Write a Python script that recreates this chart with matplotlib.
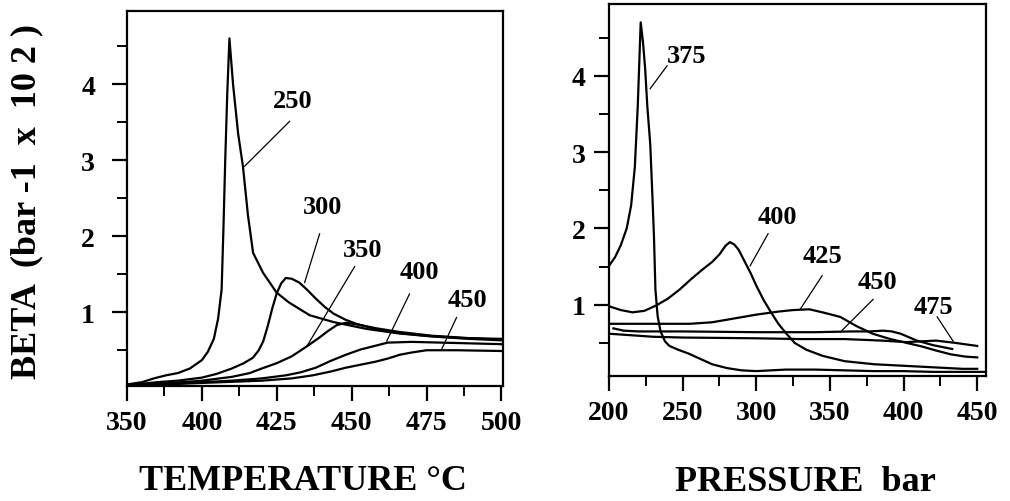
import matplotlib
matplotlib.use("Agg")
import matplotlib.pyplot as plt
from matplotlib.ticker import FixedLocator, MultipleLocator

plt.rcParams['font.family'] = ['Liberation Serif', 'DejaVu Serif']
plt.rcParams['font.weight'] = 'bold'

# ---- left panel: beta vs temperature (isobars) ----
t250_x = [375, 380, 384, 388, 392, 396, 400, 402, 404, 405.4, 406.6, 407.2, 407.8, 408.5, 409.2,
          410.4, 412.1, 413.7, 415.4, 417.1, 420.4, 424.9, 429, 436, 444, 455, 466, 477, 489, 500]
t250_y = [0.05, 0.08, 0.13, 0.17, 0.2, 0.26, 0.37, 0.48, 0.65, 0.91, 1.3, 2.1, 3.0, 3.9, 4.6,
          4.0, 3.35, 2.92, 2.27, 1.78, 1.52, 1.26, 1.13, 0.96, 0.87, 0.78, 0.72, 0.68, 0.65, 0.63]

t300_x = [375, 385, 392, 400, 405, 410, 414, 417, 419, 420.5, 422, 423.5, 425, 426.5, 428, 430,
          432.5, 435, 438, 441, 444, 448, 452, 458, 465, 475, 487, 500]
t300_y = [0.04, 0.08, 0.1, 0.14, 0.19, 0.26, 0.33, 0.4, 0.5, 0.62, 0.82, 1.05, 1.25, 1.38, 1.45, 1.44,
          1.39, 1.3, 1.18, 1.07, 0.98, 0.9, 0.84, 0.78, 0.73, 0.69, 0.66, 0.65]

t350_x = [375, 390, 400, 410, 416, 420, 425, 430, 435, 439, 442, 445, 448, 452, 458, 466, 477, 489, 500]
t350_y = [0.03, 0.07, 0.1, 0.15, 0.2, 0.26, 0.33, 0.42, 0.55, 0.66, 0.75, 0.83, 0.86, 0.84, 0.79,
          0.74, 0.69, 0.66, 0.64]

t400_x = [375, 395, 410, 420, 428, 433, 438, 443, 448, 453, 458, 462, 470, 480, 490, 500]
t400_y = [0.04, 0.07, 0.1, 0.13, 0.17, 0.21, 0.27, 0.36, 0.44, 0.51, 0.56, 0.6, 0.61, 0.6, 0.59, 0.58]

t450_x = [375, 400, 420, 430, 437, 443, 448, 453, 458, 462, 466, 470, 475, 485, 500]
t450_y = [0.03, 0.07, 0.1, 0.13, 0.17, 0.22, 0.27, 0.31, 0.35, 0.39, 0.44, 0.47, 0.5, 0.5, 0.49]

left_ticks = [375, 400, 425, 450, 475, 500]
left_ticklabels = ["350", "400", "425", "450", "475", "500"]

# label text, text position, leader start, leader end
left_labels = [
    ("250", (430.3, 3.78), (429.3, 3.51), (414.3, 2.92)),
    ("300", (440.3, 2.39), (439.3, 2.03), (434.3, 1.39)),
    ("350", (453.7, 1.83), (451.0, 1.60), (435.0, 0.55)),
    ("400", (472.7, 1.53), (469.3, 1.24), (461.7, 0.62)),
    ("450", (488.7, 1.17), (485.0, 0.93), (480.0, 0.51)),
]

# ---- right panel: beta vs pressure (isotherms) ----
p375_x = [200, 204, 208, 212, 215, 217.5, 219.5, 221.5, 223, 224.5, 226, 228, 229.5, 230.5, 231.5,
          233, 235, 238, 241, 247, 254, 262, 270, 280, 290, 300, 320, 340, 360, 380, 400, 420, 440, 455]
p375_y = [1.51, 1.62, 1.78, 2.0, 2.3, 2.8, 3.6, 4.7, 4.45, 4.1, 3.6, 3.1, 2.4, 1.9, 1.2,
          0.85, 0.65, 0.52, 0.46, 0.41, 0.36, 0.29, 0.22, 0.17, 0.14, 0.13, 0.15, 0.15, 0.14, 0.13,
          0.13, 0.12, 0.12, 0.12]

p400_x = [200, 208, 216, 224, 232, 240, 248, 256, 264, 270, 275, 279, 282, 285, 288, 292, 296, 300,
          305, 310, 315, 320, 326, 334, 345, 360, 380, 400, 420, 440, 450]
p400_y = [0.98, 0.93, 0.9, 0.92, 0.99, 1.08, 1.2, 1.34, 1.47, 1.56, 1.66, 1.77, 1.82, 1.79, 1.72,
          1.57, 1.42, 1.25, 1.06, 0.9, 0.75, 0.63, 0.5, 0.41, 0.33, 0.26, 0.22, 0.2, 0.18, 0.16, 0.16]

p425_x = [200, 230, 255, 270, 285, 300, 315, 325, 336, 345, 357, 368, 379, 391, 402, 413, 422, 432,
          442, 450]
p425_y = [0.75, 0.75, 0.75, 0.77, 0.82, 0.87, 0.91, 0.93, 0.94, 0.9, 0.84, 0.72, 0.62, 0.55, 0.5,
          0.45, 0.4, 0.35, 0.32, 0.31]

p450_x = [203, 210, 220, 250, 300, 340, 365, 377, 386, 392, 398, 409, 420, 433]
p450_y = [0.69, 0.66, 0.65, 0.65, 0.64, 0.64, 0.65, 0.65, 0.66, 0.65, 0.62, 0.53, 0.47, 0.42]

p475_x = [200, 215, 230, 250, 300, 330, 360, 385, 402, 412, 422, 435, 450]
p475_y = [0.62, 0.6, 0.58, 0.57, 0.56, 0.55, 0.55, 0.53, 0.51, 0.52, 0.53, 0.5, 0.46]

right_labels = [
    ("375", (253.0, 4.26), (239.4, 4.13), (227.9, 3.83)),
    ("400", (314.1, 2.15), (308.0, 1.93), (295.8, 1.51)),
    ("425", (344.7, 1.64), (344.7, 1.38), (329.8, 0.94)),
    ("450", (382.0, 1.31), (379.3, 1.07), (357.0, 0.64)),
    ("475", (420.0, 0.98), (422.8, 0.84), (433.7, 0.52)),
]

fig = plt.figure(figsize=(10.1, 5.02), dpi=100)
ax1 = fig.add_axes([0.1257, 0.2291, 0.3723, 0.747])
ax2 = fig.add_axes([0.603, 0.249, 0.3733, 0.741])

lw = 1.6
for xs, ys in [(t250_x, t250_y), (t300_x, t300_y), (t350_x, t350_y), (t400_x, t400_y), (t450_x, t450_y)]:
    ax1.plot(xs, ys, color='black', lw=lw)
for xs, ys in [(p375_x, p375_y), (p400_x, p400_y), (p425_x, p425_y), (p450_x, p450_y), (p475_x, p475_y)]:
    ax2.plot(xs, ys, color='black', lw=lw)

for ax, labels in [(ax1, left_labels), (ax2, right_labels)]:
    for txt, pos, a, b in labels:
        ax.text(pos[0], pos[1], txt, ha='center', va='center', fontsize=19, fontweight='bold')
        ax.plot([a[0], b[0]], [a[1], b[1]], color='black', lw=0.9)

ax1.set_xlim(375, 500.5)
ax1.set_ylim(0.03, 4.96)
ax1.xaxis.set_major_locator(FixedLocator(left_ticks))
ax1.set_xticklabels(left_ticklabels)
ax1.xaxis.set_minor_locator(MultipleLocator(12.5))

ax2.set_xlim(200, 456)
ax2.set_ylim(0.066, 4.94)
ax2.xaxis.set_major_locator(MultipleLocator(50))
ax2.xaxis.set_minor_locator(MultipleLocator(25))

for ax in (ax1, ax2):
    ax.yaxis.set_major_locator(FixedLocator([1, 2, 3, 4]))
    ax.yaxis.set_minor_locator(FixedLocator([0.5, 1.5, 2.5, 3.5, 4.5]))
    ax.tick_params(which='major', direction='out', length=11, width=1.6, labelsize=20, pad=6)
    ax.tick_params(which='minor', direction='out', length=7, width=1.4)
    for s in ax.spines.values():
        s.set_linewidth(1.6)
    for lab in ax.get_xticklabels() + ax.get_yticklabels():
        lab.set_fontweight('bold')

ax1.tick_params(axis='y', pad=12)

fig.text(0.3, 0.024, "TEMPERATURE \u00b0C", ha='center', va='baseline', fontsize=26, fontweight='bold')
fig.text(0.797, 0.022, "PRESSURE  bar", ha='center', va='baseline', fontsize=26, fontweight='bold')
fig.text(0.027, 0.598, "BETA  (bar -1  x  10 2 )", ha='center', va='center', rotation=90,
         fontsize=26, fontweight='bold')

fig.savefig("out.png", dpi=100)
